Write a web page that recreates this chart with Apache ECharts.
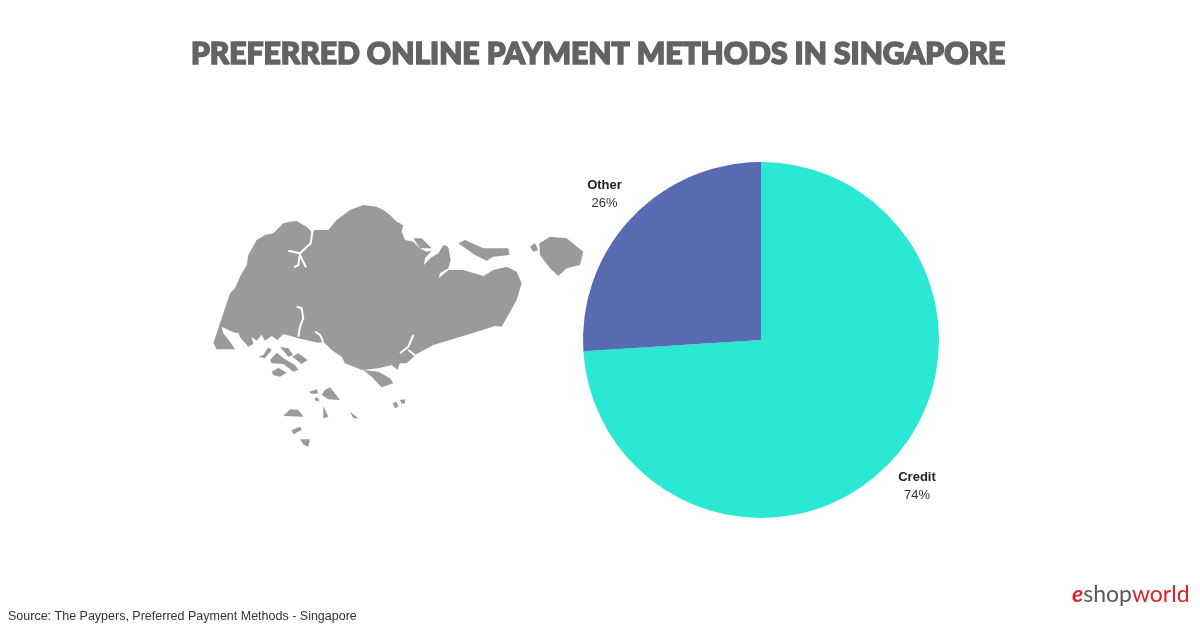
<!DOCTYPE html>
<html><head><meta charset="utf-8">
<style>html,body{margin:0;padding:0;background:#fff}#c{width:1200px;height:627px}</style>
<script src="https://cdn.jsdelivr.net/npm/echarts@6/dist/echarts.min.js"></script>
</head><body><div id="c"></div>
<script>
const categories = ['Credit', 'Other'];
const shares = [74, 26];
const colors = ['#2BE8D5', '#586BB2'];
const titleText = 'PREFERRED ONLINE PAYMENT METHODS IN SINGAPORE';
const sourceText = 'Source: The Paypers, Preferred Payment Methods - Singapore';

// Decorative map silhouette, traced in 3x zoom units
const mainland = [[40,460],[50,430],[70,370],[90,310],[105,295],[120,260],[140,225],[145,195],[170,150],[195,135],[220,130],[250,100],[270,95],[290,93],[320,110],[335,125],[345,120],[385,120],[410,90],[430,75],[450,60],[490,45],[530,50],[550,60],[570,75],[590,95],[610,105],[605,125],[615,150],[640,155],[660,175],[680,185],[695,182],[675,205],[672,225],[690,205],[715,190],[730,165],[745,170],[752,210],[745,235],[720,250],[716,265],[745,240],[790,240],[850,258],[880,240],[920,230],[950,245],[965,280],[950,330],[925,375],[905,410],[885,408],[800,435],[700,465],[650,492],[620,520],[600,520],[592,540],[575,525],[535,535],[485,540],[435,520],[425,500],[395,480],[370,455],[355,458],[340,455],[295,445],[280,440],[250,432],[232,450],[215,438],[195,452],[185,434],[170,452],[155,440],[160,462],[145,470],[120,442],[115,428],[105,428],[90,422],[65,410],[70,430],[90,455],[105,478],[50,478]];
const islands = [
 [[490,540],[535,545],[570,565],[580,580],[545,592],[515,560]],
 [[775,160],[795,150],[850,175],[925,175],[928,195],[880,200],[860,212],[825,195]],
 [[1018,160],[1050,140],[1100,145],[1150,185],[1140,225],[1100,235],[1075,258],[1050,235],[1020,195]],
 [[990,170],[1005,160],[1015,180],[1000,185]],
 [[175,500],[190,495],[205,472],[215,480],[195,505]],
 [[210,510],[230,488],[250,505],[285,525],[295,540],[280,545],[250,522],[215,520]],
 [[240,470],[265,475],[280,495],[265,500]],
 [[277,500],[295,490],[323,510],[305,522]],
 [[215,545],[235,533],[260,548],[240,560],[220,555]],
 [[328,605],[350,598],[355,610],[335,612]],
 [[345,622],[355,625],[358,633],[345,632]],
 [[375,600],[390,592],[420,630],[385,628],[365,615]],
 [[250,678],[270,658],[295,660],[310,680]],
 [[370,648],[385,680],[370,685]],
 [[450,665],[475,685],[460,685]],
 [[275,720],[300,710],[305,720],[280,733]],
 [[300,748],[330,748],[325,770],[312,765]],
 [[578,640],[590,635],[595,650],[585,655]],
 [[600,630],[615,628],[615,640],[605,642]],
 [[640,145],[665,145],[695,175],[660,175]]
];
const creeks = [
 [[338,120],[332,160],[300,190],[265,182]],
 [[300,190],[295,225],[282,232]],
 [[300,195],[318,232]],
 [[290,350],[305,355],[310,385],[300,410],[295,440]],
 [[345,425],[360,435],[370,455]],
 [[640,435],[625,470],[600,490]],
 [[625,480],[650,500]],
 [[745,170],[785,205]],
 [[605,100],[630,115]],
 [[375,488],[390,492]]
];
const scale = 1/3, ox = 200, oy = 190;
const grey = '#999A9C';
const mapShapes = [];
[mainland, ...islands].forEach(p => mapShapes.push({type:'polygon', shape:{points:p}, style:{fill:grey}}));
creeks.forEach(p => mapShapes.push({type:'polyline', shape:{points:p}, style:{stroke:'#fff', lineWidth:6, fill:null}}));

const chart = echarts.init(document.getElementById('c'));
chart.setOption({
  backgroundColor:'#fff',
  animation:false,
  series:[{
    type:'pie', center:[761,340], radius:[0,178], startAngle:90, clockwise:true,
    silent:true,
    data:categories.map((n,i)=>({name:n, value:shares[i], itemStyle:{color:colors[i]}})),
    label:{show:true, position:'outside', formatter:p=>'{n|'+p.name+'}\n{v|'+p.value+'%}', align:'center',
      rich:{n:{fontFamily:'Liberation Sans',fontWeight:'bold',fontSize:13,color:'#222',lineHeight:18,align:'center'},
            v:{fontFamily:'Liberation Sans',fontSize:13,color:'#333',lineHeight:18,align:'center'}}},
    labelLine:{show:false},
    labelLayout:p=>{
      return p.dataIndex===0 ? {x:917,y:486,align:'center',verticalAlign:'middle'} : {x:604.5,y:194,align:'center',verticalAlign:'middle'};
    }
  }],
  graphic:[
    {type:'text', x:191, y:39, silent:true, style:{text:titleText, fontFamily:'Lato', fontWeight:900, fontSize:30, fill:'#636363', stroke:'#636363', lineWidth:1.6}},
    {type:'group', x:ox, y:oy, scaleX:scale, scaleY:scale, silent:true, children:mapShapes},
    {type:'text', x:8, y:610, silent:true, style:{text:sourceText, fontFamily:'Liberation Sans', fontSize:12.5, fill:'#333'}},
    {type:'text', x:1072, y:583, silent:true, style:{text:'{e|e}{s|shop}{w|world}', fontFamily:'Lato', fontSize:23,
      rich:{e:{fontFamily:'Lato',fontStyle:'italic',fontWeight:'bold',fontSize:23,fill:'#D9232E'},
            s:{fontFamily:'Lato',fontSize:23,fill:'#58595B'},
            w:{fontFamily:'Lato',fontSize:23,fill:'#D9232E'}}}}
  ]
});
</script></body></html>
